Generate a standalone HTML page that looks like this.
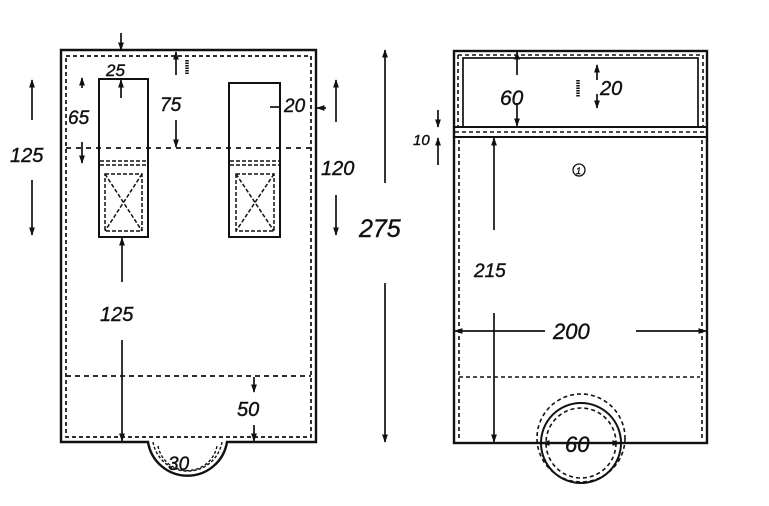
<!DOCTYPE html>
<html><head><meta charset="utf-8"><style>
html,body{margin:0;padding:0;background:#fff;}
svg{display:block;}
text{font-family:"Liberation Sans",sans-serif;font-style:italic;fill:#111;stroke:#111;stroke-width:0.4;}
</style></head><body>
<svg width="769" height="506" viewBox="0 0 769 506" xmlns="http://www.w3.org/2000/svg">
<defs>
<marker id="a" viewBox="0 0 10 10" refX="9" refY="5" markerWidth="5" markerHeight="6" orient="auto-start-reverse"><path d="M0,1.5 L10,5 L0,8.5 Z" fill="#111"/></marker>
</defs>
<g stroke="#111" fill="none">
<!-- LEFT -->
<path d="M61,50 H316 V442 H227 A40,40 0 0 1 148,442 H61 Z" stroke-width="2.4"/>
<path d="M66,56 H311 V437 H66 Z" stroke-width="1.7" stroke-dasharray="4,3"/>
<path d="M153,442 A35,35 0 0 0 222,442" stroke-width="1.4" stroke-dasharray="3,2"/>
<path d="M158,446 A30,30 0 0 0 217,446" stroke-width="1.4" stroke-dasharray="3,2"/>
<line x1="66" y1="148" x2="311" y2="148" stroke-width="1.7" stroke-dasharray="5,5"/>
<line x1="66" y1="376" x2="311" y2="376" stroke-width="1.7" stroke-dasharray="5,4"/>
<rect x="99" y="79" width="49" height="158" stroke-width="2"/>
<rect x="229" y="83" width="51" height="154" stroke-width="2"/>
<g stroke-width="1.5" stroke-dasharray="4,2">
<line x1="100" y1="161" x2="147" y2="161"/><line x1="100" y1="165" x2="147" y2="165"/>
<line x1="230" y1="161" x2="279" y2="161"/><line x1="230" y1="165" x2="279" y2="165"/>
<rect x="105" y="174" width="37" height="57"/><path d="M105,174 L142,231 M142,174 L105,231"/>
<rect x="236" y="174" width="38" height="57"/><path d="M236,174 L274,231 M274,174 L236,231"/>
</g>
<g stroke-width="1.7">
<line x1="121" y1="33" x2="121" y2="50" marker-end="url(#a)"/>
<line x1="121" y1="98" x2="121" y2="80" marker-end="url(#a)"/>
<line x1="82" y1="88" x2="82" y2="78" marker-end="url(#a)"/>
<line x1="82" y1="142" x2="82" y2="163" marker-end="url(#a)"/>
<line x1="176" y1="75" x2="176" y2="52" marker-end="url(#a)"/>
<line x1="176" y1="120" x2="176" y2="147" marker-end="url(#a)"/>
<line x1="32" y1="120" x2="32" y2="80" marker-end="url(#a)"/>
<line x1="32" y1="180" x2="32" y2="235" marker-end="url(#a)"/>
<line x1="336" y1="122" x2="336" y2="80" marker-end="url(#a)"/>
<line x1="336" y1="195" x2="336" y2="235" marker-end="url(#a)"/>
<line x1="385" y1="183" x2="385" y2="50" marker-end="url(#a)"/>
<line x1="385" y1="283" x2="385" y2="442" marker-end="url(#a)"/>
<line x1="122" y1="282" x2="122" y2="238" marker-end="url(#a)"/>
<line x1="122" y1="340" x2="122" y2="441" marker-end="url(#a)"/>
<line x1="254" y1="377" x2="254" y2="392" marker-end="url(#a)"/>
<line x1="254" y1="425" x2="254" y2="441" marker-end="url(#a)"/>
<line x1="270" y1="107" x2="281" y2="107" />
<line x1="326" y1="108" x2="317" y2="108" marker-end="url(#a)"/>
</g>
<!-- RIGHT -->
<rect x="454" y="51" width="253" height="392" stroke-width="2.4"/>
<rect x="463" y="58" width="235" height="69" stroke-width="1.7"/>
<line x1="454" y1="127" x2="707" y2="127" stroke-width="2"/>
<line x1="454" y1="137" x2="707" y2="137" stroke-width="2"/>
<g stroke-width="1.6" stroke-dasharray="4,3">
<path d="M458,55 H703 V127 M458,55 V127"/>
<line x1="455" y1="132" x2="706" y2="132"/>
<path d="M459,140 V440 M702,140 V440"/>
<line x1="459" y1="377" x2="700" y2="377"/>
<circle cx="581" cy="438" r="44"/>
<circle cx="581" cy="443" r="35"/>
</g>
<circle cx="581" cy="443" r="40" stroke-width="2"/>
<g stroke-width="1.7">
<line x1="517" y1="75" x2="517" y2="52" marker-end="url(#a)"/>
<line x1="517" y1="103" x2="517" y2="126" marker-end="url(#a)"/>
<line x1="597" y1="80" x2="597" y2="65" marker-end="url(#a)"/>
<line x1="597" y1="94" x2="597" y2="108" marker-end="url(#a)"/>
<line x1="438" y1="110" x2="438" y2="127" marker-end="url(#a)"/>
<line x1="438" y1="165" x2="438" y2="138" marker-end="url(#a)"/>
<line x1="494" y1="230" x2="494" y2="138" marker-end="url(#a)"/>
<line x1="494" y1="313" x2="494" y2="442" marker-end="url(#a)"/>
<line x1="545" y1="331" x2="455" y2="331" marker-end="url(#a)"/>
<line x1="636" y1="331" x2="706" y2="331" marker-end="url(#a)"/>
<line x1="558" y1="443" x2="542" y2="443" marker-end="url(#a)"/>
<line x1="603" y1="443" x2="620" y2="443" marker-end="url(#a)"/>
</g>
<line x1="578" y1="80" x2="578" y2="97" stroke-width="3.5" stroke-dasharray="1.5,1"/>
<line x1="187" y1="60" x2="187" y2="74" stroke-width="3.5" stroke-dasharray="1.5,1"/>
<circle cx="579" cy="170" r="6" stroke-width="1.3"/>
</g>
<g font-size="20">
<text x="106" y="76" font-size="17">25</text>
<text x="68" y="124" font-size="19">65</text>
<text x="160" y="111" font-size="19">75</text>
<text x="284" y="112" font-size="19">20</text>
<text x="10" y="162">125</text>
<text x="321" y="175">120</text>
<text x="359" y="237" font-size="25">275</text>
<text x="100" y="321">125</text>
<text x="237" y="416">50</text>
<text x="168" y="470" font-size="19">30</text>
<text x="500" y="105" font-size="21">60</text>
<text x="600" y="95" font-size="20">20</text>
<text x="413" y="145" font-size="15">10</text>
<text x="474" y="277" font-size="19">215</text>
<text x="553" y="339" font-size="22">200</text>
<text x="565" y="452" font-size="22">60</text>
<text x="576" y="174" font-size="9" font-style="normal" stroke-width="0">1</text>
</g>
</svg>
</body></html>
